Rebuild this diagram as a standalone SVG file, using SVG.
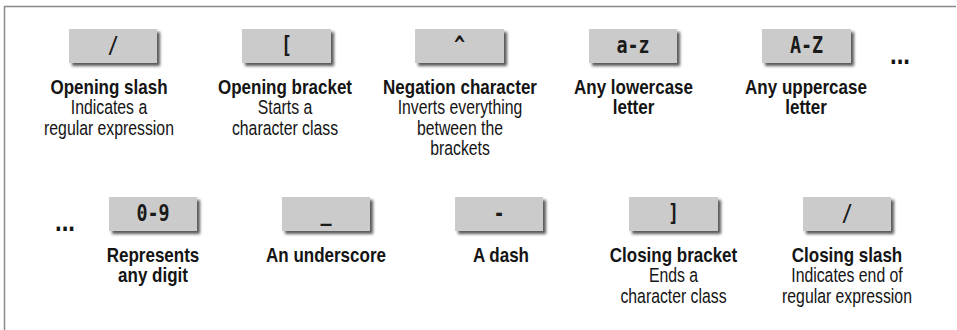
<svg xmlns="http://www.w3.org/2000/svg" width="957" height="330" viewBox="0 0 957 330">
<defs>
<filter id="sh" x="-10%" y="-20%" width="130%" height="160%">
<feDropShadow dx="3" dy="3" stdDeviation="1.6" flood-color="#000" flood-opacity="0.65"/>
</filter>
<style>
.box{fill:#cbcbcb;filter:url(#sh)}
.sym{font-family:"DejaVu Sans Mono","Liberation Mono",monospace;font-weight:bold;font-size:23px;fill:#1a1a1a;text-anchor:middle}
.t{font-family:"Liberation Sans",Arial,sans-serif;font-weight:bold;font-size:20px;fill:#141414;text-anchor:middle}
.d{font-family:"Liberation Sans",Arial,sans-serif;font-size:19.5px;fill:#141414;text-anchor:middle}
.dots{font-family:"Liberation Sans",sans-serif;font-weight:bold;font-size:30px;fill:#141414;text-anchor:middle}
.frame{fill:none;stroke:#8a8a8a;stroke-width:1.5}
</style>
</defs>
<rect width="957" height="330" fill="#fff"/>
<path class="frame" d="M4.5,330 V6.5 H956"/>
<g id="connectors"/>
<g id="n-open-slash">
<rect class="box" x="69" y="29" width="88" height="34"/>
<text class="sym" transform="matrix(0.8,0,0,1,113,0)" y="53">/</text>
<text class="t" transform="matrix(0.85,0,0,1,109,0)" y="94">Opening slash</text>
<text class="d" transform="matrix(0.81,0,0,1,109,0)" y="114.5">Indicates a</text>
<text class="d" transform="matrix(0.81,0,0,1,109,0)" y="135">regular expression</text>
</g>
<g id="n-open-bracket">
<rect class="box" x="242" y="29" width="89" height="34"/>
<text class="sym" transform="matrix(0.8,0,0,1,286.5,0)" y="53">[</text>
<text class="t" transform="matrix(0.85,0,0,1,285,0)" y="94">Opening bracket</text>
<text class="d" transform="matrix(0.81,0,0,1,285,0)" y="114.5">Starts a</text>
<text class="d" transform="matrix(0.81,0,0,1,285,0)" y="135">character class</text>
</g>
<g id="n-negation">
<rect class="box" x="415" y="29" width="89" height="34"/>
<text class="sym" transform="matrix(0.8,0,0,1,459.5,0)" y="53">^</text>
<text class="t" transform="matrix(0.85,0,0,1,460,0)" y="94">Negation character</text>
<text class="d" transform="matrix(0.81,0,0,1,460,0)" y="114.5">Inverts everything</text>
<text class="d" transform="matrix(0.81,0,0,1,460,0)" y="135">between the</text>
<text class="d" transform="matrix(0.81,0,0,1,460,0)" y="155.5">brackets</text>
</g>
<g id="n-lower">
<rect class="box" x="589" y="29" width="88" height="34"/>
<text class="sym" transform="matrix(0.8,0,0,1,633,0)" y="53">a-z</text>
<text class="t" transform="matrix(0.85,0,0,1,633.5,0)" y="94">Any lowercase</text>
<text class="t" transform="matrix(0.85,0,0,1,633.5,0)" y="114.5">letter</text>
</g>
<g id="n-upper">
<rect class="box" x="762" y="29" width="89" height="34"/>
<text class="sym" transform="matrix(0.8,0,0,1,806.5,0)" y="53">A-Z</text>
<text class="t" transform="matrix(0.85,0,0,1,806,0)" y="94">Any uppercase</text>
<text class="t" transform="matrix(0.85,0,0,1,806,0)" y="114.5">letter</text>
</g>
<g id="n-dots-1">
<text class="dots" transform="matrix(0.8,0,0,1,900,0)" y="64.5">...</text>
</g>
<g id="n-dots-2">
<text class="dots" transform="matrix(0.8,0,0,1,65,0)" y="231.5">...</text>
</g>
<g id="n-digit">
<rect class="box" x="109" y="197" width="88" height="34"/>
<text class="sym" transform="matrix(0.8,0,0,1,153,0)" y="221">0-9</text>
<text class="t" transform="matrix(0.85,0,0,1,153,0)" y="262">Represents</text>
<text class="t" transform="matrix(0.85,0,0,1,153,0)" y="282.5">any digit</text>
</g>
<g id="n-underscore">
<rect class="box" x="282" y="197" width="88" height="34"/>
<text class="sym" transform="matrix(0.8,0,0,1,326,0)" y="221">_</text>
<text class="t" transform="matrix(0.85,0,0,1,326,0)" y="262">An underscore</text>
</g>
<g id="n-dash">
<rect class="box" x="455" y="197" width="88" height="34"/>
<text class="sym" transform="matrix(0.8,0,0,1,499,0)" y="221">-</text>
<text class="t" transform="matrix(0.85,0,0,1,501,0)" y="262">A dash</text>
</g>
<g id="n-close-bracket">
<rect class="box" x="629" y="197" width="89" height="34"/>
<text class="sym" transform="matrix(0.8,0,0,1,673.5,0)" y="221">]</text>
<text class="t" transform="matrix(0.85,0,0,1,673.5,0)" y="262">Closing bracket</text>
<text class="d" transform="matrix(0.81,0,0,1,673.5,0)" y="282.5">Ends a</text>
<text class="d" transform="matrix(0.81,0,0,1,673.5,0)" y="303">character class</text>
</g>
<g id="n-close-slash">
<rect class="box" x="803" y="197" width="88" height="34"/>
<text class="sym" transform="matrix(0.8,0,0,1,847,0)" y="221">/</text>
<text class="t" transform="matrix(0.85,0,0,1,847,0)" y="262">Closing slash</text>
<text class="d" transform="matrix(0.81,0,0,1,847,0)" y="282.5">Indicates end of</text>
<text class="d" transform="matrix(0.81,0,0,1,847,0)" y="303">regular expression</text>
</g>
</svg>
